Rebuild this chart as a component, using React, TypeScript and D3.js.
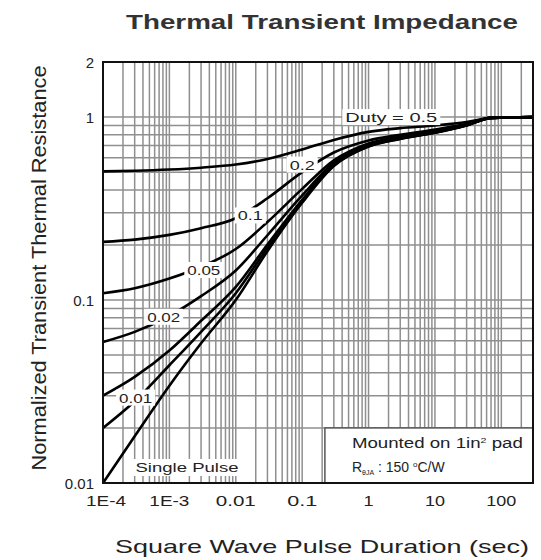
import { useMemo } from 'react'
import * as d3 from 'd3'

const pulseTimes = [1e-4, 3e-4, 1e-3, 3e-3, 1e-2, 3e-2, 0.1, 0.3, 1, 3, 10, 30, 70, 300]

const singlePulse = [0.01, 0.018, 0.034, 0.058, 0.1, 0.185, 0.34, 0.54, 0.69, 0.76, 0.82, 0.9, 0.99, 1.0]
const duty001 = [0.02, 0.028, 0.044, 0.067, 0.109, 0.193, 0.347, 0.545, 0.693, 0.762, 0.822, 0.901, 0.99, 1.0]
const duty002 = [0.03, 0.038, 0.053, 0.077, 0.118, 0.201, 0.353, 0.55, 0.696, 0.765, 0.824, 0.902, 0.99, 1.0]
const duty005 = [0.059, 0.067, 0.082, 0.105, 0.145, 0.226, 0.373, 0.562, 0.705, 0.772, 0.829, 0.905, 0.99, 1.0]
const duty01 = [0.109, 0.116, 0.131, 0.152, 0.19, 0.267, 0.405, 0.58, 0.718, 0.784, 0.838, 0.91, 0.99, 1.0]
const duty02 = [0.208, 0.214, 0.227, 0.247, 0.28, 0.36, 0.5, 0.64, 0.745, 0.8, 0.855, 0.92, 0.99, 1.0]
const duty05 = [0.505, 0.509, 0.517, 0.529, 0.55, 0.59, 0.665, 0.75, 0.83, 0.87, 0.9, 0.94, 0.99, 1.0]

const series = [singlePulse, duty001, duty002, duty005, duty01, duty02, duty05]

const xTicks = [1e-4, 1e-3, 0.01, 0.1, 1, 10, 100]
const xTickLabels = ['1E-4', '1E-3', '0.01', '0.1', '1', '10', '100']
const yTicks = [0.01, 0.1, 1, 2]
const yTickLabels = ['0.01', '0.1', '1', '2']

// curve labels: [text, t, Z, text width]
const curveLabels: [string, number, number, number][] = [
  ['Duty =  0.5', 2.2, 1.0, 92],
  ['0.2', 0.1, 0.55, 25],
  ['0.1', 0.0165, 0.29, 25],
  ['0.05', 0.0033, 0.146, 33],
  ['0.02', 0.00082, 0.081, 33],
  ['0.01', 0.00031, 0.0293, 33],
]

const W = 541
const H = 560
const left = 103
const right = 533
const top = 62
const bottom = 483
const font = 'Arial, "Liberation Sans", Helvetica, sans-serif'

export default function App() {
  const x = d3.scaleLog().domain([1e-4, 300]).range([left, right])
  const y = d3.scaleLog().domain([0.01, 2]).range([bottom, top])

  const line = d3
    .line<number>()
    .x((_, i) => x(pulseTimes[i]))
    .y((d) => y(d))
    .curve(d3.curveMonotoneX)

  const vGrid = useMemo(() => {
    const out: number[] = []
    for (let e = -4; e <= 2; e++) {
      for (let k = 1; k <= 9; k++) {
        const v = k * Math.pow(10, e)
        if (v > 1e-4 && v < 300) out.push(v)
      }
    }
    return out
  }, [])
  const hGrid = useMemo(() => {
    const out: number[] = []
    for (let e = -2; e <= 0; e++) {
      for (let k = 1; k <= 9; k++) {
        const v = k * Math.pow(10, e)
        if (v > 0.01 && v < 2) out.push(v)
      }
    }
    return out
  }, [])

  return (
    <svg width={W} height={H} style={{ position: 'absolute', left: 0, top: 0, background: '#fff' }} fontFamily={font}>
      <text x={322} y={29} textAnchor="middle" fontSize={19.5} fontWeight="bold" fill="#333" textLength={392} lengthAdjust="spacingAndGlyphs">
        Thermal Transient Impedance
      </text>

      <g stroke="#8f8f8f" strokeWidth={1.5}>
        {vGrid.map((v) => (
          <line key={`v${v}`} x1={x(v)} x2={x(v)} y1={top} y2={bottom} />
        ))}
        {hGrid.map((v) => (
          <line key={`h${v}`} x1={left} x2={right} y1={y(v)} y2={y(v)} />
        ))}
      </g>

      <rect x={x(0.22)} y={y(0.02)} width={right - x(0.22)} height={bottom - y(0.02)} fill="#fff" stroke="#555" strokeWidth={1.5} />
      <text x={x(0.22) + 27} y={448} fontSize={14} fill="#222" textLength={171} lengthAdjust="spacingAndGlyphs">
        Mounted on 1in<tspan dy={-5} fontSize={8}>2</tspan><tspan dy={5}> pad</tspan>
      </text>
      <text x={x(0.22) + 27} y={472} fontSize={14} fill="#222">
        R<tspan fontSize={7} dy={3}>θJA</tspan>
        <tspan dy={-3}> : 150 </tspan>
        <tspan fontSize={8} dy={-5}>o</tspan>
        <tspan dy={5}>C/W</tspan>
      </text>

      <g fill="none" stroke="#000" strokeWidth={2.6}>
        {series.map((s, i) => (
          <path key={i} d={line(s) ?? ''} />
        ))}
      </g>

      {curveLabels.map(([label, t, z, w]) => (
        <g key={label}>
          <rect x={x(t) - w / 2 - 3} y={y(z) - 8} width={w + 6} height={16} fill="#fff" />
          <text x={x(t)} y={y(z) + 5} textAnchor="middle" fontSize={13.5} fill="#222" textLength={w} lengthAdjust="spacingAndGlyphs">
            {label}
          </text>
        </g>
      ))}

      <rect x={133} y={459} width={107} height={17} fill="#fff" />
      <text x={187} y={472} textAnchor="middle" fontSize={13.5} fill="#222" textLength={103} lengthAdjust="spacingAndGlyphs">
        Single Pulse
      </text>

      <rect x={left} y={top} width={right - left} height={bottom - top} fill="none" stroke="#111" strokeWidth={2} />

      {xTicks.map((t, i) => (
        <text
          key={t}
          x={x(t) + (i === 0 ? 3 : 0)}
          y={506}
          textAnchor="middle"
          fontSize={15}
          fill="#222"
          textLength={xTickLabels[i].length * 10}
          lengthAdjust="spacingAndGlyphs"
        >
          {xTickLabels[i]}
        </text>
      ))}
      {yTicks.map((t, i) => (
        <text key={t} x={94} y={y(t) + 5.5} textAnchor="end" fontSize={15} fill="#222">
          {yTickLabels[i]}
        </text>
      ))}

      <text x={322} y={553} textAnchor="middle" fontSize={19} fill="#222" textLength={414} lengthAdjust="spacingAndGlyphs">
        Square Wave Pulse Duration (sec)
      </text>
      <text
        transform={`translate(${46},${268}) rotate(-90)`}
        textAnchor="middle"
        fontSize={21}
        fill="#222"
        textLength={405}
        lengthAdjust="spacingAndGlyphs"
      >
        Normalized Transient Thermal Resistance
      </text>
    </svg>
  )
}
